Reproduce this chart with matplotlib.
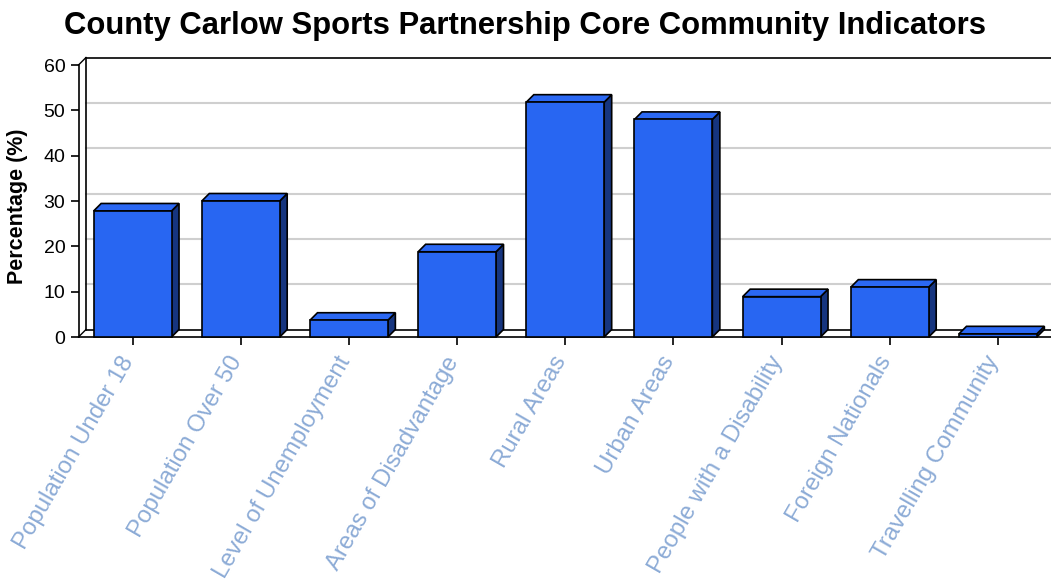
import matplotlib
matplotlib.use("Agg")
import matplotlib.pyplot as plt
from matplotlib.patches import Polygon
from matplotlib.transforms import ScaledTranslation

plt.rcParams["font.family"] = ["Liberation Sans", "DejaVu Sans"]

categories = [
    "Population Under 18",
    "Population Over 50",
    "Level of Unemployment",
    "Areas of Disadvantage",
    "Rural Areas",
    "Urban Areas",
    "People with a Disability",
    "Foreign Nationals",
    "Travelling Community",
]
values = [27.8, 30.0, 3.7, 18.8, 51.8, 48.0, 8.9, 11.0, 0.7]
y_ticks = [0, 10, 20, 30, 40, 50, 60]

FRONT = "#2866f2"
TOP = "#2b68f3"
SIDE = "#16357f"
LABEL = "#8cabd6"

W, H = 1051, 583
fig = plt.figure(figsize=(W / 100, H / 100), dpi=100)

left_px, right_px, bottom_px, top_px = 78.5, 1052.0, 337.0, 65.0
ax = fig.add_axes([left_px / W, 1 - bottom_px / H,
                   (right_px - left_px) / W, (bottom_px - top_px) / H])
n = len(categories)
ax.set_xlim(-0.5, n - 0.5)
ax.set_ylim(0, 60)

# 3D depth, converted from pixels to data units
depth_px = 7.5
dx = depth_px * n / (right_px - left_px)
dy = depth_px * 60 / (bottom_px - top_px)

for s in ["top", "right"]:
    ax.spines[s].set_visible(False)
ax.spines["left"].set_linewidth(1.2)
ax.spines["bottom"].set_linewidth(1.2)

# back wall grid
x0, x1 = -0.5 + dx, n - 0.5 + dx + 1
for t in y_ticks[1:-1]:
    ax.plot([x0, x1], [t + dy, t + dy], color="#cfcfcf", lw=1.5,
            clip_on=False, zorder=1)
ax.plot([x0, x1], [60 + dy, 60 + dy], color="black", lw=1.2, clip_on=False, zorder=2)
ax.plot([x0, x1], [dy, dy], color="black", lw=1.2, clip_on=False, zorder=2)
ax.plot([x0, x0], [dy, 60 + dy], color="black", lw=1.2, clip_on=False, zorder=2)
ax.plot([-0.5, x0], [0, dy], color="black", lw=1.0, clip_on=False, zorder=2)
ax.plot([-0.5, x0], [60, 60 + dy], color="black", lw=1.0, clip_on=False, zorder=2)

bw = 0.72
for i, v in enumerate(values):
    l, r = i - bw / 2, i + bw / 2
    side = [(r, 0), (r + dx, dy), (r + dx, v + dy), (r, v)]
    top = [(l, v), (l + dx, v + dy), (r + dx, v + dy), (r, v)]
    front = [(l, 0), (l, v), (r, v), (r, 0)]
    for pts, c in [(side, SIDE), (top, TOP), (front, FRONT)]:
        ax.add_patch(Polygon(pts, closed=True, facecolor=c, edgecolor="black",
                             lw=1.2, joinstyle="miter", zorder=3, clip_on=False))

ax.set_yticks(y_ticks)
ax.set_yticklabels([str(t) for t in y_ticks], fontsize=14)
ax.tick_params(axis="y", length=6, width=1.2, pad=3.5)
ax.set_xticks(range(n))
ax.set_xticklabels(categories, rotation=60, ha="right", va="top",
                   fontsize=17.3, color=LABEL)
ax.tick_params(axis="x", length=6, width=1.2, pad=5)
for lab in ax.get_xticklabels():
    lab.set_transform(lab.get_transform() + ScaledTranslation(0.06, 0, fig.dpi_scale_trans))

fig.text(18 / W, 1 - 206 / H, "Percentage (%)", rotation=90, ha="center",
         va="center", fontsize=15.5, fontweight="bold")
fig.text(0.5, 1 - 26 / H, "County Carlow Sports Partnership Core Community Indicators",
         ha="center", va="center", fontsize=22.3, fontweight="bold")

fig.savefig("out.png", dpi=100)
